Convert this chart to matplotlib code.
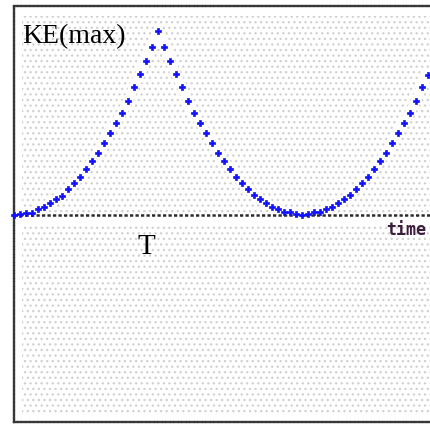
import matplotlib
matplotlib.use('Agg')
import matplotlib.pyplot as plt
from matplotlib.patches import Rectangle

W, H, DPI = 431, 426, 100

# time samples (uniform steps) and kinetic energy readings (arbitrary units)
time = list(range(70))
ke = [0, 0.2, 1.2, 1.8, 5.5, 7.5, 11.8, 15.5, 18.5, 25.5,
      31.5, 37.5, 45.5, 53.5, 61.5, 71.5, 81.5, 92, 101.8, 113.8,
      127.8, 140.3, 153.5, 167.8, 183.5,
      167.8, 153.5, 140.2, 127.8, 113.8, 101.8, 91.8, 81.8, 71.8, 61.8,
      53.8, 45.5, 37.8, 31.8, 25.8, 19.8, 15.8, 11.8, 7.8, 5.5,
      2.5, 2.5, 0.5, -0.2,
      0.5, 2.5, 2.5, 5.8, 7.8, 11.8, 15.2, 19.8, 25.8, 31.8,
      37.8, 45.2, 53.8, 61.8, 71.8, 81.8, 91.8, 101.8, 113.8, 127.8,
      139.8]

label_ke = "KE(max)"
label_T = "T"
label_time = "time"

plt.rcParams['hatch.linewidth'] = 0.9

fig = plt.figure(figsize=(W / DPI, H / DPI), dpi=DPI)
fig.patch.set_facecolor('white')

def fx(px):
    return px / W

def fy(py):
    return 1 - py / H

ax = fig.add_axes([fx(14), fy(422), (440 - 14) / W, (422 - 6) / H])
ax.set_xlim(0, 71)
ax.set_ylim(-207.5, 208.5)
ax.set_xticks([])
ax.set_yticks([])
ax.set_facecolor('white')

# stipple texture
stip = Rectangle((8 / 426, 9 / 416), 1.2, (416 - 9 - 10) / 416, transform=ax.transAxes,
                 facecolor='white', edgecolor='#d0d0d0', linewidth=0, hatch='...', zorder=0)
ax.add_patch(stip)

# white band under axis line
ax.axhspan(-10, -1, color='white', zorder=1, lw=0)

# white halo around curve
ax.plot(time, ke, color='white', lw=7, zorder=1, solid_capstyle='round', clip_on=False)

# horizontal time axis
ax.axhline(0, color='#2a2a2a', lw=1.8, linestyle=(0, (1.3, 0.9)), zorder=2)

# data points
ax.plot(time, ke, linestyle='none', marker='P', ms=4.8, color='#1010ff',
        markeredgewidth=0.5, markeredgecolor='#1010ff', zorder=3, clip_on=False)

for side in ['left', 'top', 'bottom']:
    ax.spines[side].set_linestyle((0, (1.2, 0.8, 0.6, 0.8)))
    ax.spines[side].set_color('#383838')
    ax.spines[side].set_linewidth(1.7)
ax.spines['right'].set_visible(False)

fig.text(fx(22), fy(43), label_ke, family='Liberation Serif', fontsize=20,
         color='black', va='baseline', ha='left')
fig.text(fx(146), fy(254), label_T, family='Liberation Serif', fontsize=21,
         color='black', va='baseline', ha='center')
fig.text(fx(386), fy(235), label_time, family='DejaVu Sans Mono', fontsize=12,
         fontweight='bold', color='#3c1e3c', va='baseline', ha='left')

fig.savefig('out.png', dpi=DPI, facecolor='white')
